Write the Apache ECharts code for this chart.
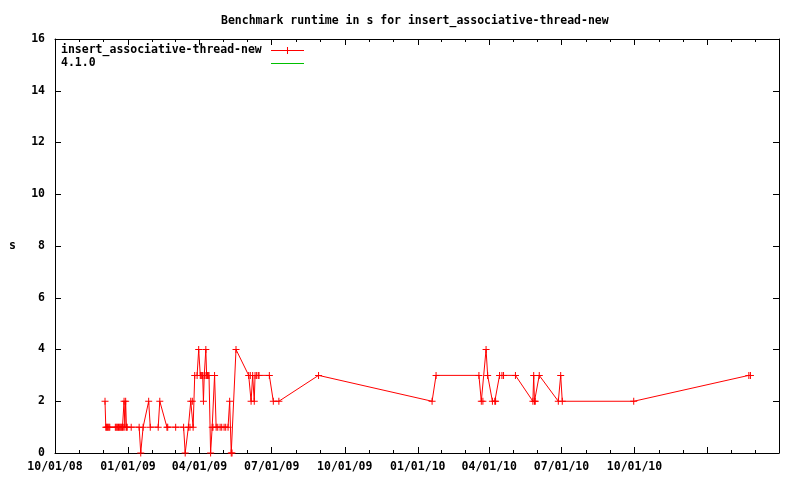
<!DOCTYPE html>
<html>
<head>
<meta charset="utf-8">
<script src="https://cdn.jsdelivr.net/npm/echarts@6/dist/echarts.min.js"></script>
<style>
html, body { margin: 0; padding: 0; background: #fff; }
#chart { width: 800px; height: 480px; }
</style>
</head>
<body>
<div id="chart"></div>
<script>
// runtime (s) of insert_associative-thread-new per run
const runDates = [
    '2008-12-03', '2008-12-04', '2008-12-05', '2008-12-06', '2008-12-07', '2008-12-08', '2008-12-09',
    '2008-12-16', '2008-12-17', '2008-12-18', '2008-12-19', '2008-12-20', '2008-12-21', '2008-12-22',
    '2008-12-23', '2008-12-24', '2008-12-25', '2008-12-26', '2008-12-27', '2008-12-28', '2008-12-29',
    '2008-12-30', '2008-12-31',
    '2009-01-05', '2009-01-15', '2009-01-17', '2009-01-20', '2009-01-27', '2009-01-29',
    '2009-02-08', '2009-02-10', '2009-02-19', '2009-02-20', '2009-03-02',
    '2009-03-12', '2009-03-14', '2009-03-18', '2009-03-20', '2009-03-21', '2009-03-23', '2009-03-24',
    '2009-03-26', '2009-03-29', '2009-03-31',
    '2009-04-02', '2009-04-03', '2009-04-04', '2009-04-05', '2009-04-06', '2009-04-07', '2009-04-08',
    '2009-04-09', '2009-04-10', '2009-04-11', '2009-04-12', '2009-04-13', '2009-04-15', '2009-04-17',
    '2009-04-18', '2009-04-20',
    '2009-04-22', '2009-04-24', '2009-04-27', '2009-04-29', '2009-05-02', '2009-05-04', '2009-05-07',
    '2009-05-09', '2009-05-11', '2009-05-12', '2009-05-17',
    '2009-06-02', '2009-06-04', '2009-06-05', '2009-06-07', '2009-06-09', '2009-06-10', '2009-06-12',
    '2009-06-14', '2009-06-15', '2009-06-28', '2009-07-03', '2009-07-10', '2009-08-29',
    '2010-01-19', '2010-01-24', '2010-03-19', '2010-03-22', '2010-03-24', '2010-03-28', '2010-03-30',
    '2010-04-05', '2010-04-08', '2010-04-09', '2010-04-14', '2010-04-17', '2010-04-19', '2010-05-04',
    '2010-05-26', '2010-05-27', '2010-05-28', '2010-05-29', '2010-06-03',
    '2010-06-27', '2010-06-30', '2010-07-02', '2010-09-30',
    '2011-02-22', '2011-02-24'
]
const runtimes = [
    2, 1, 1, 1, 1, 1, 1,
    1, 1, 1, 1, 1, 1, 1,
    1, 1, 1, 1, 2, 1, 2,
    1, 1,
    1, 1, 0, 1, 2, 1,
    1, 2, 1, 1, 1,
    1, 0, 1, 1, 2, 2, 1,
    3, 3, 4,
    3, 3, 3, 3, 2, 3, 3,
    4, 3, 3, 3, 3, 0, 1,
    1, 3,
    1, 1, 1, 1, 1, 1, 1,
    2, 0, 0, 4,
    3, 3, 2, 3, 2, 3, 3,
    3, 3, 3, 2, 2, 3,
    2, 3, 3, 2, 2, 4, 3,
    2, 2, 2, 3, 3, 3, 3,
    2, 3, 2, 2, 3,
    2, 3, 2, 2,
    3, 3
]
// 4.1.0 reference: nothing of it is visible in the plot -> one empty (null) slot,
// only so the series gets its colour for the legend
const refDates = ['2008-10-01']
const refRuntimes = [null]

const xStart = '2008-10-01'
const xEnd = '2011-04-01'
const quarterTicks = ['2008-10-01', '2009-01-01', '2009-04-01', '2009-07-01', '2009-10-01',
    '2010-01-01', '2010-04-01', '2010-07-01', '2010-10-01', '2011-01-01', '2011-04-01']
const labelTicks = ['2008-10-01', '2009-01-01', '2009-04-01', '2009-07-01', '2009-10-01',
    '2010-01-01', '2010-04-01', '2010-07-01', '2010-10-01']

function ts(s) {
    const p = s.split('-')
    return new Date(+p[0], +p[1] - 1, +p[2]).getTime()
}
function pad(n) { return n < 10 ? '0' + n : '' + n }
function fmt(v) {
    const d = new Date(v)
    return pad(d.getMonth() + 1) + '/' + pad(d.getDate()) + '/' + pad(d.getFullYear() % 100)
}

const majorTs = quarterTicks.map(ts)
const minorTs = []
for (let i = 0; i < majorTs.length - 1; i++) {
    const step = (majorTs[i + 1] - majorTs[i]) / 3
    minorTs.push(majorTs[i] + step, majorTs[i] + 2 * step)
}

const font = 'DejaVu Sans Mono'
const black = '#000'
const red = '#ff0000'
const green = '#00c000'
const plusPath = 'path://M3,0H4V3H7V4H4V7H3V4H0V3H3Z'
// flat dash that just sits on the legend line (keeps the square box via tiny corner dots)
const dashPath = 'path://M0,3H7V4H0Z M0,0H0.01V0.01H0Z M6.99,6.99H7V7H6.99Z'

// date axis kept as a plain value axis holding timestamps
function dateAxis(pos, ticks, len, showLine, labels) {
    return {
        type: 'value',
        position: pos,
        min: ts(xStart),
        max: ts(xEnd),
        scale: true,
        axisLine: { show: showLine, lineStyle: { color: black, width: 1 } },
        axisTick: { show: true, inside: true, length: len, customValues: ticks, lineStyle: { color: black, width: 1 } },
        axisLabel: labels ? {
            show: true,
            customValues: labelTicks.map(ts),
            formatter: fmt,
            fontFamily: font,
            fontWeight: 'bold',
            fontSize: 11.5,
            color: black,
            margin: 8
        } : { show: false },
        splitLine: { show: false },
        minorTick: { show: false }
    }
}

const chart = echarts.init(document.getElementById('chart'))
chart.setOption({
    animation: false,
    backgroundColor: '#fff',
    color: [red, green],
    title: {
        text: 'Benchmark runtime in s for insert_associative-thread-new',
        left: 216,
        top: 10,
        textStyle: { fontFamily: font, fontWeight: 'bold', fontSize: 11.5, color: black }
    },
    legend: {
        orient: 'vertical',
        left: 56,
        top: 39,
        align: 'right',
        itemWidth: 33,
        itemHeight: 9,
        itemGap: 0,
        lineStyle: { width: 1 },
        formatter: '{t|{name}}',
        textStyle: {
            fontFamily: font, fontWeight: 'bold', fontSize: 11.5, color: black, lineHeight: 13,
            rich: {
                t: { width: 205, align: 'left', fontFamily: font, fontWeight: 'bold', fontSize: 11.5, color: black }
            }
        },
        data: ['insert_associative-thread-new', '4.1.0']
    },
    grid: { left: 55, right: 21, top: 39, bottom: 27, containLabel: false, outerBoundsMode: 'none' },
    xAxis: [
        dateAxis('bottom', majorTs, 6, true, true),
        dateAxis('bottom', minorTs, 3, false, false),
        dateAxis('top', majorTs, 6, true, false),
        dateAxis('top', minorTs, 3, false, false)
    ],
    yAxis: [
        {
            type: 'value',
            position: 'left',
            min: 0,
            max: 16,
            interval: 2,
            name: 's',
            nameLocation: 'middle',
            nameGap: 39,
            nameRotate: 0,
            nameTextStyle: { fontFamily: font, fontWeight: 'bold', fontSize: 11.5, color: black },
            axisLine: { show: true, lineStyle: { color: black, width: 1 } },
            axisTick: { show: true, inside: true, length: 6, lineStyle: { color: black } },
            axisLabel: { fontFamily: font, fontWeight: 'bold', fontSize: 11.5, color: black, margin: 10 },
            splitLine: { show: false }
        },
        {
            type: 'value',
            position: 'right',
            min: 0,
            max: 16,
            interval: 2,
            axisLine: { show: true, lineStyle: { color: black, width: 1 } },
            axisTick: { show: true, inside: true, length: 6, lineStyle: { color: black } },
            axisLabel: { show: false },
            splitLine: { show: false }
        }
    ],
    series: [
        {
            name: 'insert_associative-thread-new',
            type: 'line',
            xAxisIndex: 0,
            yAxisIndex: 0,
            symbol: plusPath,
            symbolSize: 7,
            showSymbol: true,
            showAllSymbol: true,
            itemStyle: { color: red },
            lineStyle: { color: red, width: 1 },
            data: runDates.map((d, i) => [ts(d), runtimes[i]])
        },
        {
            name: '4.1.0',
            type: 'line',
            xAxisIndex: 0,
            yAxisIndex: 0,
            symbol: dashPath,
            itemStyle: { color: green },
            lineStyle: { color: green, width: 1 },
            data: refDates.map((d, i) => [ts(d), refRuntimes[i]])
        }
    ]
})
</script>
</body>
</html>
